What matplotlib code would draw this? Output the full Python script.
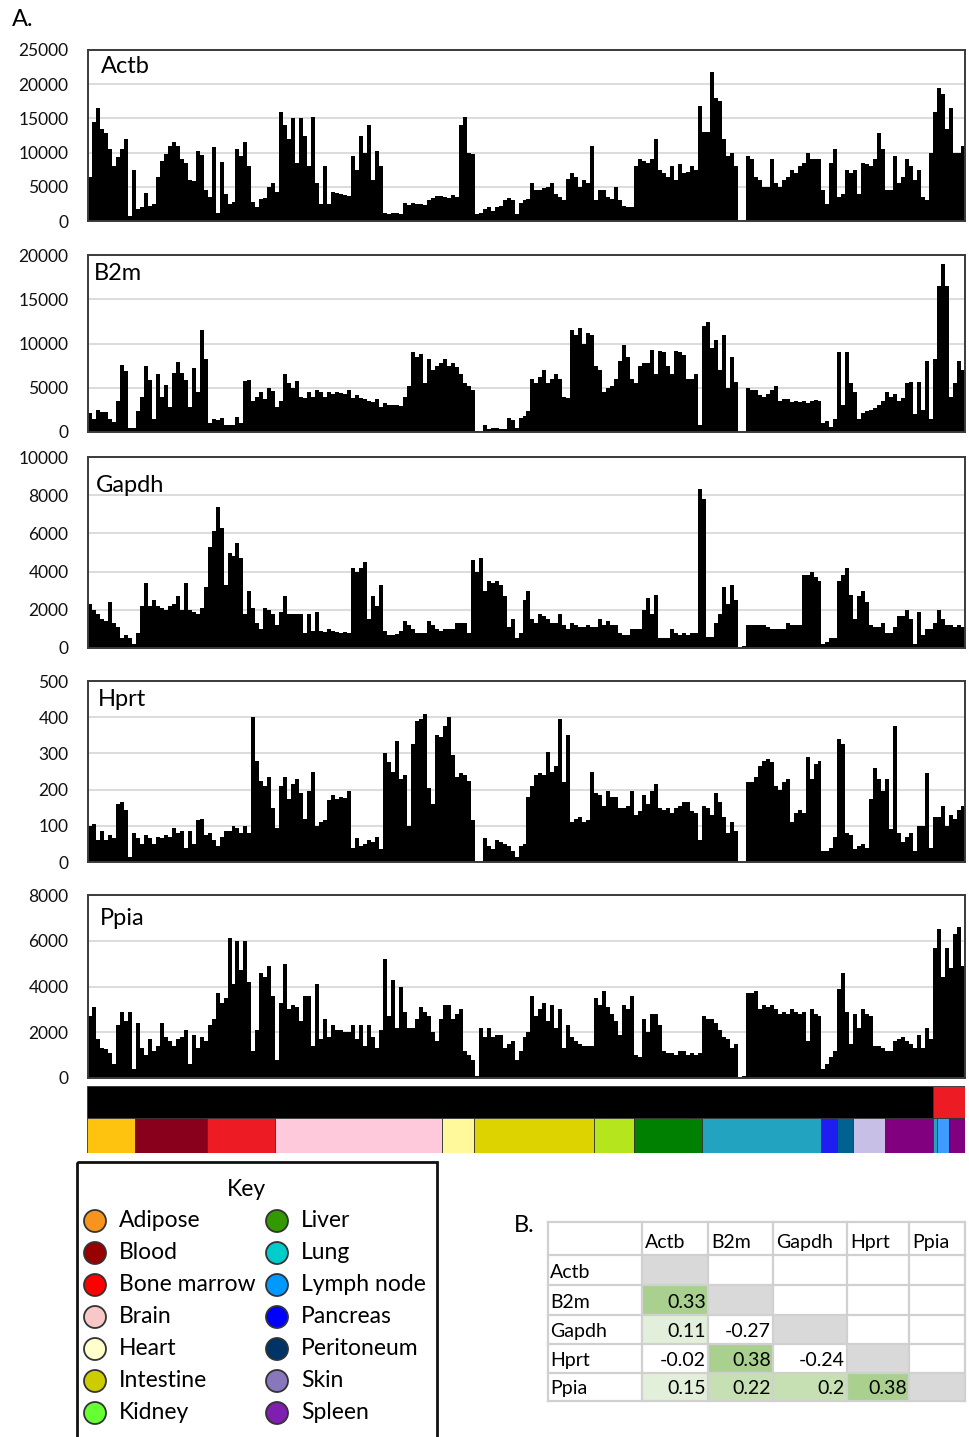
import numpy as np
import matplotlib
matplotlib.use('Agg')
import matplotlib.pyplot as plt
from matplotlib.patches import Rectangle, Circle
from matplotlib.colors import ListedColormap, BoundaryNorm

plt.rcParams['font.family'] = ['Lato', 'DejaVu Sans']

# ---------------- data ----------------
genes = ['Actb', 'B2m', 'Gapdh', 'Hprt', 'Ppia']

actb = [6500,14500,16500,13500,12800,10500,8000,9300,10500,12000,
        800,7400,1800,2000,4100,2200,2500,6500,8700,9800,
        11000,11500,11000,9000,8500,6000,5800,10300,9700,4500,
        3500,10800,1200,8600,4000,2500,2800,10500,9500,11500,
        8000,2800,2000,3200,3400,5000,5500,4300,16000,14000,
        12000,15000,8500,15000,12500,8000,15200,5500,2500,8000,
        2500,4300,4100,4000,3800,3700,9500,7500,12500,10000,
        14000,6000,10300,8000,1200,1000,1100,1200,1000,2700,
        2400,2600,2500,2500,2400,3000,3300,3700,3600,3500,
        3300,3800,3500,14000,15200,10000,9800,1000,1100,1800,
        2000,1500,2000,
        2200,3000,3300,3000,1000,2700,3000,3200,5500,4500,
        4600,4800,5000,5500,4000,3500,3000,6200,7000,6500,
        5000,6000,5600,11000,3000,4500,4500,3500,3200,5000,
        3000,2200,2000,2000,8000,9000,8800,8500,9000,12000,
        7500,7000,6500,8000,6000,8300,7000,7200,8000,7500,
        16800,13000,13000,21800,18000,17500,12000,9500,10000,8000,
        0,0,9500,9000,6500,6000,5000,5000,9000,5500,
        5000,6000,6500,7500,7000,8000,8500,10000,9000,9000,
        9000,4500,2500,8500,10500,3500,4000,7500,7000,7500,
        4000,8500,8300,8000,9000,12800,10500,4500,4500,9500,
        5500,6500,9000,8000,6000,7500,3500,3000,10000,16000,
        19500,18500,13500,16500,10000,10000,11000]

b2m = [2200,1500,2500,2300,2300,1500,1100,3500,7600,6900,
       400,500,2400,4000,7500,5900,1500,6600,4000,5300,
       2800,6700,7900,6700,5900,2800,7200,4500,11500,8300,
       1000,1500,1400,1600,800,800,800,1700,1000,5800,
       5900,3500,3900,4500,3700,5000,4600,2800,3500,6500,
       5500,5000,5800,4000,3800,4500,4000,4800,4500,4000,
       4500,4300,4500,4400,4300,4700,3800,4200,3800,3700,
       3500,3400,3700,2800,3300,3000,3100,3000,2900,4000,
       5200,9000,8500,8800,5500,8300,7000,7500,7800,8200,
       7500,7800,7400,6500,5500,5200,4800,100,100,800,
       300,400,400,
       350,350,1600,1400,400,1600,1800,2400,6000,5500,
       6200,7000,5500,6000,6600,6000,4000,3800,11500,11000,
       11700,10000,11200,11000,7500,7000,4500,5000,5200,6000,
       8000,9800,8500,6000,5500,7500,7800,7800,9300,6500,
       9200,9000,7500,6500,9200,9000,8700,6000,6000,6500,
       800,12000,12400,9500,10400,7000,11000,5000,8500,5600,
       0,0,5000,4700,4700,4200,4000,4300,4800,5200,
       3500,3700,3700,3400,3500,3400,3500,3300,3500,3600,
       3500,1000,1200,600,1500,9000,3000,9000,5500,4500,
       1500,2200,2400,2500,2700,3000,3500,4500,4000,4300,
       3500,3800,5500,5600,2000,5600,2500,8000,1500,8300,
       16500,19000,16500,4000,5500,8000,7000]

gapdh = [2300,2000,1800,1500,1400,2400,1300,1100,500,700,
         500,200,800,2200,3400,2200,2500,2200,2100,2000,
         2200,2300,2700,2000,3400,2000,1900,1800,2100,3200,
         5300,6100,7400,6300,3300,5000,4800,5500,4700,1800,
         3000,2100,1300,1000,2100,2000,1800,1200,1900,2700,
         1800,1800,1800,1800,800,1800,900,1900,900,850,
         1000,900,850,800,850,800,4200,4000,4200,4500,
         1500,2700,2200,3300,900,700,700,750,900,1400,
         1200,1000,800,800,800,1400,1200,1000,900,1000,
         1000,1000,1300,1300,1300,800,4600,4000,4700,3000,
         3500,3400,3500,
         3300,2700,1100,1500,500,800,2500,3000,1500,1300,
         1800,1700,1500,1300,1300,1800,1200,1000,1300,1200,
         1100,1100,1200,1100,1100,1500,1200,1400,1200,1200,
         800,700,700,1000,1000,1000,2000,2600,1800,2800,
         500,500,500,1000,800,700,800,700,800,800,
         8300,7800,600,600,1300,1800,3200,2300,3300,2500,
         0,100,1200,1200,1200,1200,1200,1100,1000,1000,
         1000,1000,1300,1200,1200,1200,3800,3800,4000,3700,
         3500,200,300,500,500,3500,3800,4200,2800,1500,
         2700,3000,2400,1200,1100,1100,1300,800,800,1100,
         1700,1700,2000,1500,200,1900,700,1000,1000,1300,
         2000,1500,1200,1200,1100,1200,1100]

hprt = [100,105,60,85,60,75,65,160,165,145,
        15,80,65,50,75,65,50,70,65,75,
        70,95,80,85,40,85,50,115,120,75,
        80,60,45,70,85,85,100,95,80,100,
        80,400,280,225,210,235,150,95,210,235,
        175,215,230,190,120,195,250,100,110,115,
        170,185,175,180,178,195,40,65,45,50,
        60,55,70,35,300,275,250,335,230,240,
        100,325,390,395,410,205,160,350,345,375,
        400,295,235,245,240,225,115,0,0,65,
        45,35,60,
        55,50,45,30,15,45,50,180,210,240,
        245,240,305,250,265,395,220,350,110,120,
        125,110,115,250,190,185,155,195,180,180,
        150,150,155,195,130,140,185,160,195,215,
        150,145,150,135,150,155,165,165,140,135,
        60,155,150,130,190,165,125,80,110,85,
        0,0,220,220,235,265,280,285,275,210,
        200,220,230,110,135,145,135,290,230,270,
        280,30,30,40,70,340,325,80,75,35,
        45,50,40,175,260,230,195,230,90,375,
        80,55,70,80,30,100,100,245,40,125,
        125,155,100,130,120,145,155]

ppia = [2700,3100,1700,1300,1250,1100,600,2300,2900,2500,
        2900,400,2400,1300,1000,1700,1200,1400,2400,1800,
        1600,1400,1700,1800,2100,600,1900,1300,1800,1600,
        2300,2600,3700,3300,3500,6100,4100,6000,4700,6000,
        4200,1200,2100,4600,4400,4900,3600,800,3300,5000,
        3000,3200,3100,2500,3600,3600,1400,4100,1700,2600,
        1800,2300,2100,2100,2000,2000,2300,1700,2300,1400,
        2300,1800,1300,2100,5200,2700,4300,2200,4000,2900,
        2200,2200,2600,3100,2900,2700,2000,1600,2600,3200,
        3200,2600,2800,3000,1200,1000,800,100,2200,1800,
        2200,1800,1900,
        1900,1300,1500,1600,800,1200,1800,2000,3600,2700,
        3000,3300,2500,3200,2200,3000,1300,2300,1800,1600,
        1500,1400,1400,1400,3500,3200,3800,3100,2800,2500,
        1900,3200,3000,3600,1000,900,2600,2000,2800,2800,
        2300,1200,1100,1100,1000,1200,1200,1000,1100,1000,
        1100,2700,2600,2600,2400,2100,1800,1700,1300,1500,
        0,100,3700,3700,3800,3000,3200,3100,3200,3000,
        2800,2900,2800,3000,2900,2800,2900,1600,3000,2800,
        2700,400,600,900,1200,3900,4600,2900,1500,2800,
        2200,3000,2800,2700,1400,1400,1300,1200,1200,1600,
        1700,1800,1600,1500,1300,1900,1300,2200,1700,5700,
        6500,4400,5700,4800,6300,6600,4900]

series = [actb, b2m, gapdh, hprt, ppia]
y_max = [25000, 20000, 10000, 500, 8000]
y_step = [5000, 5000, 2000, 100, 2000]

# sample annotation strips
tissue_names = ['Adipose', 'Blood', 'Bone marrow', 'Brain', 'Heart', 'Intestine',
                'Kidney', 'Liver', 'Lung', 'Pancreas', 'Peritoneum', 'Skin',
                'Spleen', 'Lung', 'Lymph node', 'Spleen']
tissue_counts = [12, 18, 17, 42, 8, 30, 10, 17, 30, 4, 4, 8, 12, 1, 3, 4]
group_counts = [212, 8]
group_colors = ['#000000', '#ED1C24']

strip_colors = {'Adipose': '#FDC30F', 'Blood': '#88001B', 'Bone marrow': '#ED1C24',
                'Brain': '#FFC9DC', 'Heart': '#FFF99B', 'Intestine': '#DCD300',
                'Kidney': '#B5E61D', 'Liver': '#008000', 'Lung': '#22A3C0',
                'Pancreas': '#1E1EF0', 'Peritoneum': '#00628F', 'Skin': '#C8BFE7',
                'Spleen': '#80007F', 'Lymph node': '#3F9BFF'}

legend_left = ['Adipose', 'Blood', 'Bone marrow', 'Brain', 'Heart', 'Intestine', 'Kidney']
legend_right = ['Liver', 'Lung', 'Lymph node', 'Pancreas', 'Peritoneum', 'Skin', 'Spleen']
legend_colors = {'Adipose': '#F7941D', 'Blood': '#990000', 'Bone marrow': '#FF0000',
                 'Brain': '#F8C8C8', 'Heart': '#FFFFCC', 'Intestine': '#CCCC00',
                 'Kidney': '#66FF33', 'Liver': '#339900', 'Lung': '#00CCCC',
                 'Lymph node': '#0099FF', 'Pancreas': '#0000FF', 'Peritoneum': '#003366',
                 'Skin': '#8877BB', 'Spleen': '#7F1FAF'}

# correlation matrix (lower triangle)
corr = {('B2m', 'Actb'): 0.33,
        ('Gapdh', 'Actb'): 0.11, ('Gapdh', 'B2m'): -0.27,
        ('Hprt', 'Actb'): -0.02, ('Hprt', 'B2m'): 0.38, ('Hprt', 'Gapdh'): -0.24,
        ('Ppia', 'Actb'): 0.15, ('Ppia', 'B2m'): 0.22, ('Ppia', 'Gapdh'): 0.2,
        ('Ppia', 'Hprt'): 0.38}

# ---------------- figure ----------------
W, H = 970, 1437
fig = plt.figure(figsize=(W / 100, H / 100), dpi=100)


def px_axes(x0, y0, x1, y1):
    return fig.add_axes([x0 / W, 1 - y1 / H, (x1 - x0) / W, (y1 - y0) / H])


panel_boxes = [(88, 50, 965, 221), (88, 255, 965, 432), (88, 457, 965, 648),
               (88, 681, 965, 862), (88, 895, 965, 1078)]

for vals, ymx, stp, box in zip(series, y_max, y_step, panel_boxes):
    ax = px_axes(*box)
    x = np.arange(len(vals))
    ax.bar(x, vals, width=1.0, color='black', linewidth=0)
    ax.set_xlim(-0.5, len(vals) - 0.5)
    ax.set_ylim(0, ymx)
    ax.set_yticks(np.arange(0, ymx + 1, stp))
    ax.set_xticks([])
    ax.yaxis.grid(True, color='#D9D9D9', linewidth=1.3)
    ax.set_axisbelow(True)
    ax.tick_params(axis='y', length=0, pad=14, labelsize=12.5, labelcolor='#111111')
    for sp in ax.spines.values():
        sp.set_color('#3a3a3a')
        sp.set_linewidth(1.4)

# annotation strip
sax = px_axes(87, 1086, 965, 1153)
n_total = sum(tissue_counts)
left = 0
for cnt, col in zip(group_counts, group_colors):
    sax.barh(16, cnt, left=left, height=32, color=col, edgecolor='#333333', linewidth=0.6)
    left += cnt
left = 0
for name, cnt in zip(tissue_names, tissue_counts):
    sax.barh(49.5, cnt, left=left, height=35, color=strip_colors[name],
             edgecolor='#333333', linewidth=0.6)
    left += cnt
sax.set_xlim(0, n_total)
sax.set_ylim(67, 0)
sax.axis('off')

# overlay for text, key and table (pixel coordinates)
ov = fig.add_axes([0, 0, 1, 1])
ov.set_xlim(0, W)
ov.set_ylim(H, 0)
ov.axis('off')
ov.patch.set_visible(False)

ov.text(12, 26, 'A.', fontsize=17, va='baseline')
label_pos = [(101, 73), (94, 280), (96, 492), (98, 706), (100, 925)]
for g, (lx, ly) in zip(genes, label_pos):
    ov.text(lx, ly, g, fontsize=17, va='baseline')

# key box
ov.add_patch(Rectangle((77, 1162), 360, 300, fill=False, edgecolor='#111111',
                       linewidth=2, clip_on=False))
ov.text(246, 1196, 'Key', ha='center', va='baseline', fontsize=16.5)
row_y = [1220, 1252, 1284, 1316, 1348, 1380, 1412]
for names, cx, tx in [(legend_left, 95, 119), (legend_right, 277, 301)]:
    for nm, cy in zip(names, row_y):
        ov.add_patch(Circle((cx, cy + 1), 11, facecolor=legend_colors[nm],
                            edgecolor='#333333', linewidth=1.3))
        ov.text(tx, cy + 7, nm, fontsize=16.5, va='baseline')

# correlation table
ov.text(514, 1232, 'B.', fontsize=17, va='baseline')
col_x = [548, 642, 708, 773, 847, 909, 965]
row_yb = [1222, 1255, 1285, 1315, 1344, 1373, 1401]
cmap = ListedColormap(['#FFFFFF', '#E2EFDA', '#C6E0B4', '#A9D08E'])
norm = BoundaryNorm([-1, 0, 0.18, 0.3, 1], cmap.N)
for ri, rg in enumerate(genes):
    for ci, cg in enumerate(genes):
        x0, x1 = col_x[ci + 1], col_x[ci + 2]
        y0, y1 = row_yb[ri + 1], row_yb[ri + 2]
        if ri == ci:
            ov.add_patch(Rectangle((x0, y0), x1 - x0, y1 - y0, facecolor='#D9D9D9',
                                   edgecolor='none'))
        elif (rg, cg) in corr:
            v = corr[(rg, cg)]
            ov.add_patch(Rectangle((x0, y0), x1 - x0, y1 - y0, facecolor=cmap(norm(v)),
                                   edgecolor='none'))
            ov.text(x1 - 2, y1 - 7, f'{v:g}', ha='right', va='baseline', fontsize=14)
for ci, cg in enumerate(genes):
    ov.text(col_x[ci + 1] + 3, row_yb[1] - 7, cg, ha='left', va='baseline', fontsize=14)
for ri, rg in enumerate(genes):
    ov.text(col_x[0] + 2, row_yb[ri + 2] - 7, rg, ha='left', va='baseline', fontsize=14)
for xv in col_x:
    ov.plot([xv, xv], [row_yb[0], row_yb[-1]], color='#D0D0D0', lw=1.6)
for yv in row_yb:
    ov.plot([col_x[0], col_x[-1]], [yv, yv], color='#D0D0D0', lw=1.6)

fig.savefig('out.png', dpi=100)
